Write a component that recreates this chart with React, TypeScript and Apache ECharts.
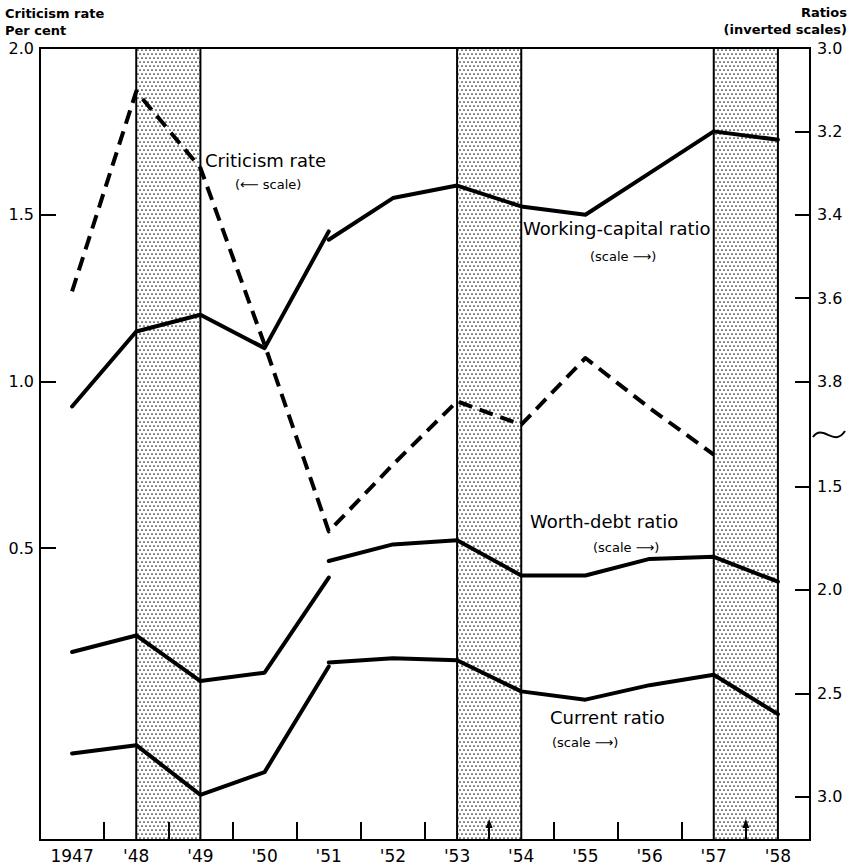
import React, { useEffect, useRef } from "react";
import * as echarts from "echarts";

// ---- data ----
const years = [1947, 1948, 1949, 1950, 1951, 1952, 1953, 1954, 1955, 1956, 1957, 1958];
const yearLabels = ["1947", "'48", "'49", "'50", "'51", "'52", "'53", "'54", "'55", "'56", "'57", "'58"];
const halfYearTicks = [1947.5, 1948.5, 1949.5, 1950.5, 1951.5, 1952.5, 1953.5, 1954.5, 1955.5, 1956.5, 1957.5];
const arrowTicks = [1953.5, 1957.5];
const recessions = [[1948, 1949], [1953, 1954], [1957, 1958]];

const criticismYears = [1947, 1948, 1949, 1950, 1951, 1952, 1953, 1954, 1955, 1956, 1957];
const criticismRate = [1.27, 1.87, 1.64, 1.11, 0.55, 0.75, 0.94, 0.87, 1.07, 0.92, 0.78];

const oldBasisYears = [1947, 1948, 1949, 1950, 1951];
const newBasisYears = [1951, 1952, 1953, 1954, 1955, 1956, 1957, 1958];
const workingCapitalOld = [3.86, 3.68, 3.64, 3.72, 3.44];
const workingCapitalNew = [3.46, 3.36, 3.33, 3.38, 3.40, 3.30, 3.20, 3.22];
const worthDebtOld = [2.30, 2.22, 2.44, 2.40, 1.94];
const worthDebtNew = [1.86, 1.78, 1.76, 1.93, 1.93, 1.85, 1.84, 1.96];
const currentOld = [2.79, 2.75, 2.99, 2.88, 2.37];
const currentNew = [2.35, 2.33, 2.34, 2.49, 2.53, 2.46, 2.41, 2.60];

const leftTicks = [0.5, 1.0, 1.5, 2.0];
const workingCapitalTicks = [3.0, 3.2, 3.4, 3.6, 3.8];
const lowerRatioTicks = [1.5, 2.0, 2.5, 3.0];

const FONT = "DejaVu Sans";

function pairs(xs: number[], ys: number[]) {
  return xs.map((x, i) => [x, ys[i]]);
}

function makeDotPattern() {
  const c = document.createElement("canvas");
  c.width = 8;
  c.height = 8;
  const ctx = c.getContext("2d")!;
  ctx.fillStyle = "#ffffff";
  ctx.fillRect(0, 0, 8, 8);
  ctx.fillStyle = "#222222";
  const dots = [[2, 2], [6, 2], [0, 6], [4, 6], [8, 6]];
  dots.forEach(([x, y]) => {
    ctx.beginPath();
    ctx.arc(x, y, 0.85, 0, Math.PI * 2);
    ctx.fill();
  });
  return c;
}

export default function App() {
  const ref = useRef<HTMLDivElement>(null);

  useEffect(() => {
    if (!ref.current) return;
    const chart = echarts.init(ref.current, undefined, { renderer: "svg" });
    const pattern = makeDotPattern();

    const solid = { color: "#000", width: 4, type: "solid" as const, cap: "round" as const, join: "round" as const };
    const lineSeries = (name: string, data: number[][], yAxisIndex: number, dashed = false) => ({
      name,
      type: "line",
      xAxisIndex: 0,
      yAxisIndex,
      data,
      symbol: "none",
      silent: true,
      z: 3,
      lineStyle: dashed ? { color: "#000", width: 4, type: [14, 8], cap: "butt", join: "round" } : solid,
    });

    const labelStyle = { color: "#000", fontFamily: FONT, fontSize: 16 };

    const texts = [
      { id: "t1", x: 5, y: 13, text: "Criticism rate", font: `bold 13px ${FONT}`, align: "left" },
      { id: "t2", x: 5, y: 30, text: "Per cent", font: `bold 13px ${FONT}`, align: "left" },
      { id: "t3", x: 847, y: 12, text: "Ratios", font: `bold 13px ${FONT}`, align: "right" },
      { id: "t4", x: 847, y: 29, text: "(inverted scales)", font: `bold 13px ${FONT}`, align: "right" },
      { id: "t5", x: 205, y: 160, text: "Criticism rate", font: `18px ${FONT}`, align: "left" },
      { id: "t6", x: 235, y: 184, text: "(\u27F5 scale)", font: `13px ${FONT}`, align: "left" },
      { id: "t7", x: 523, y: 228, text: "Working-capital ratio", font: `18px ${FONT}`, align: "left" },
      { id: "t8", x: 590, y: 256, text: "(scale \u27F6)", font: `13px ${FONT}`, align: "left" },
      { id: "t9", x: 530, y: 521, text: "Worth-debt ratio", font: `18px ${FONT}`, align: "left" },
      { id: "t10", x: 593, y: 547, text: "(scale \u27F6)", font: `13px ${FONT}`, align: "left" },
      { id: "t11", x: 550, y: 717, text: "Current ratio", font: `18px ${FONT}`, align: "left" },
      { id: "t12", x: 552, y: 742, text: "(scale \u27F6)", font: `13px ${FONT}`, align: "left" },
    ].map((t) => ({
      id: t.id,
      type: "text",
      silent: true,
      z: 20,
      style: {
        x: t.x,
        y: t.y,
        text: t.text,
        font: t.font,
        fill: "#000",
        textAlign: t.align,
        textVerticalAlign: "middle",
      },
    }));

    const option: any = {
      animation: false,
      backgroundColor: "#fff",
      grid: {
        left: 40,
        right: 42,
        top: 48,
        bottom: 27,
        show: true,
        borderColor: "#000",
        borderWidth: 2,
        backgroundColor: "transparent",
      },
      xAxis: {
        type: "value",
        z: 5,
        min: 1946.5,
        max: 1958.5,
        axisLine: { show: true, onZero: false, lineStyle: { color: "#000", width: 2 } },
        axisTick: {
          show: true,
          inside: true,
          length: 18,
          lineStyle: { color: "#000", width: 2 },
          customValues: halfYearTicks,
        },
        axisLabel: {
          ...labelStyle,
          fontSize: 17,
          margin: 7,
          customValues: years,
          formatter: (v: number) => {
            const i = years.indexOf(Math.round(v));
            return i >= 0 ? yearLabels[i] : "";
          },
        },
        splitLine: { show: false },
      },
      yAxis: [
        {
          type: "value",
          z: 5,
          position: "left",
          min: -0.376,
          max: 2.0,
          axisLine: { show: true, onZero: false, lineStyle: { color: "#000", width: 2 } },
          axisTick: {
            show: true,
            inside: true,
            length: 16,
            lineStyle: { color: "#000", width: 2 },
            customValues: leftTicks,
          },
          axisLabel: {
            ...labelStyle,
            margin: 6,
            customValues: leftTicks,
            formatter: (v: number) => v.toFixed(1),
          },
          splitLine: { show: false },
        },
        {
          type: "value",
          z: 5,
          position: "right",
          inverse: true,
          min: 3.0,
          max: 4.9,
          axisLine: { show: true, onZero: false, lineStyle: { color: "#000", width: 2 } },
          axisTick: {
            show: true,
            inside: true,
            length: 15,
            lineStyle: { color: "#000", width: 2 },
            customValues: workingCapitalTicks,
          },
          axisLabel: {
            ...labelStyle,
            margin: 7,
            customValues: workingCapitalTicks,
            formatter: (v: number) => v.toFixed(1),
          },
          splitLine: { show: false },
        },
        {
          type: "value",
          z: 5,
          position: "right",
          inverse: true,
          min: -0.618,
          max: 3.208,
          axisLine: { show: false, onZero: false },
          axisTick: {
            show: true,
            inside: true,
            length: 15,
            lineStyle: { color: "#000", width: 2 },
            customValues: lowerRatioTicks,
          },
          axisLabel: {
            ...labelStyle,
            margin: 7,
            customValues: lowerRatioTicks,
            formatter: (v: number) => v.toFixed(1),
          },
          splitLine: { show: false },
        },
      ],
      series: [
        {
          name: "recessions",
          type: "line",
          xAxisIndex: 0,
          yAxisIndex: 0,
          data: [],
          symbol: "none",
          silent: true,
          z: 1,
          markArea: {
            silent: true,
            z: 1,
            itemStyle: {
              color: { image: pattern, repeat: "repeat", imageWidth: 8, imageHeight: 8 },
              borderColor: "#000",
              borderWidth: 2,
            },
            data: recessions.map(([a, b]) => [{ xAxis: a }, { xAxis: b }]),
          },
        },
        lineSeries("Criticism rate", pairs(criticismYears, criticismRate), 0, true),
        lineSeries("Working-capital ratio (old)", pairs(oldBasisYears, workingCapitalOld), 1),
        lineSeries("Working-capital ratio", pairs(newBasisYears, workingCapitalNew), 1),
        lineSeries("Worth-debt ratio (old)", pairs(oldBasisYears, worthDebtOld), 2),
        lineSeries("Worth-debt ratio", pairs(newBasisYears, worthDebtNew), 2),
        lineSeries("Current ratio (old)", pairs(oldBasisYears, currentOld), 2),
        lineSeries("Current ratio", pairs(newBasisYears, currentNew), 2),
      ],
      graphic: [
        ...texts,
        {
          id: "break",
          type: "bezierCurve",
          silent: true,
          shape: { x1: 813, y1: 437, cpx1: 823, cpy1: 423, cpx2: 834, cpy2: 448, x2: 845, y2: 431 },
          style: { stroke: "#000", lineWidth: 2, fill: null },
        },
      ],
    };

    chart.setOption(option);

    // arrow heads on selected x ticks, placed through the axis scale
    const bottomY = chart.convertToPixel({ yAxisIndex: 0 }, -0.376) as number;
    const arrows = arrowTicks.map((v, i) => {
      const px = chart.convertToPixel({ xAxisIndex: 0 }, v) as number;
      return {
        id: "arrow" + i,
        type: "polygon",
        silent: true,
        z: 10,
        shape: {
          points: [
            [px, bottomY - 21],
            [px - 3.5, bottomY - 12],
            [px + 3.5, bottomY - 12],
          ],
        },
        style: { fill: "#000" },
      };
    });
    chart.setOption({ graphic: arrows });

    return () => chart.dispose();
  }, []);

  return (
    <div
      ref={ref}
      style={{ position: "fixed", left: 0, top: 0, width: 852, height: 867, background: "#fff" }}
    />
  );
}
